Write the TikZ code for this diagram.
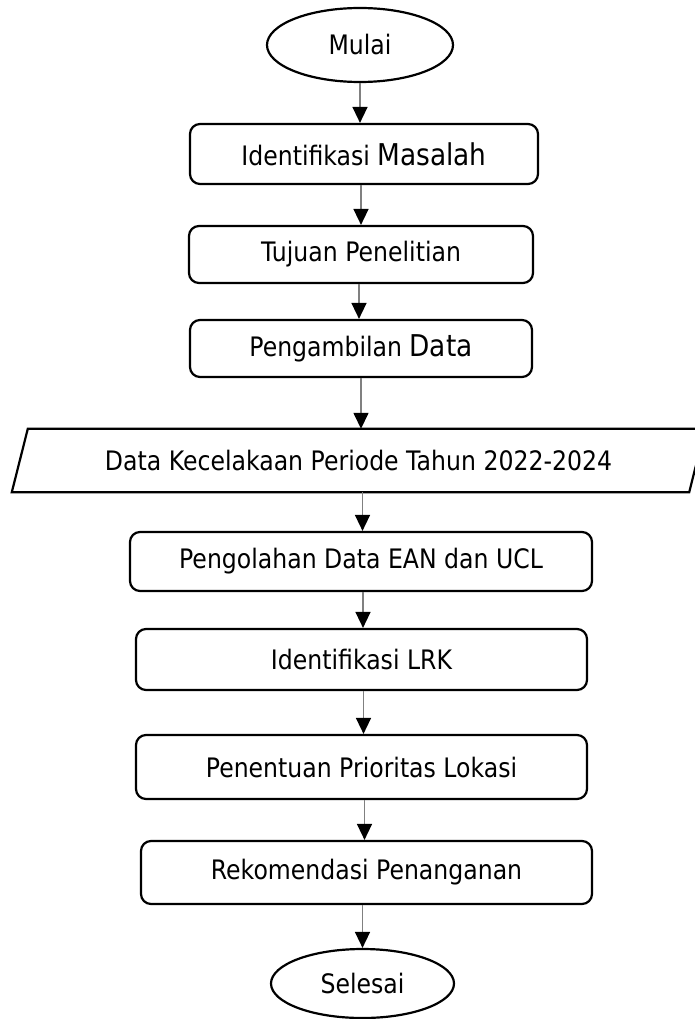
\documentclass[tikz,border=0pt]{standalone}
\usepackage{fontspec}
\setmainfont{DejaVu Sans}[FakeStretch=0.88]
\usetikzlibrary{shapes.geometric,arrows.meta}
\begin{document}
\begin{tikzpicture}[x=1pt,y=-1pt,
  every node/.style={font=\fontsize{26.8}{30}\selectfont, inner sep=0pt},
  proc/.style={draw, line width=2.2pt, rounded corners=10pt},
  term/.style={draw, ellipse, line width=2.2pt},
  arr/.style={draw=gray, line width=1.5pt, -{Triangle[length=16pt,width=15pt,color=black]}}
]
\useasboundingbox (0,0) rectangle (694,1019);
\node[term, minimum width=186pt, minimum height=74pt] (mulai) at (360,45) {Mulai};
\node[proc, minimum width=348pt, minimum height=60pt] (b1) at (364,154) {Identifikasi {\fontsize{30}{32}\selectfont Masalah}};
\node[proc, minimum width=344pt, minimum height=57pt] (b2) at (361,254.5) {Tujuan Penelitian};
\node[proc, minimum width=342pt, minimum height=57pt] (b3) at (361,348.5) {Pengambilan {\fontsize{30}{32}\selectfont Data}};
\node[minimum width=677pt, minimum height=63pt] (p) at (358.5,460.5) {Data Kecelakaan Periode Tahun 2022-2024};
\draw[line width=2.2pt, line join=miter] ([xshift=8pt]p.north west) -- ([xshift=8pt]p.north east) -- ([xshift=-8pt]p.south east) -- ([xshift=-8pt]p.south west) -- cycle;
\node[proc, minimum width=462pt, minimum height=59pt] (b4) at (361,561.5) {Pengolahan Data EAN dan UCL};
\node[proc, minimum width=451pt, minimum height=61pt] (b5) at (361.5,659.5) {Identifikasi LRK};
\node[proc, minimum width=451pt, minimum height=64pt] (b6) at (361.5,767) {Penentuan Prioritas Lokasi};
\node[proc, minimum width=451pt, minimum height=63pt] (b7) at (366.5,872.5) {Rekomendasi Penanganan};
\node[term, minimum width=183pt, minimum height=69pt] (sel) at (362.5,983.5) {Selesai};
\draw[arr] (mulai.south) -- (mulai.south |- b1.north);
\draw[arr] ([xshift=-3pt]b1.south) -- ([xshift=-3pt]b1.south |- b2.north);
\draw[arr] ([xshift=-2pt]b2.south) -- ([xshift=-2pt]b2.south |- b3.north);
\draw[arr] (b3.south) -- (b3.south |- p.north);
\draw[arr] ([xshift=4pt]p.south) -- ([xshift=4pt]p.south |- b4.north);
\draw[arr] ([xshift=2pt]b4.south) -- ([xshift=2pt]b4.south |- b5.north);
\draw[arr] ([xshift=2pt]b5.south) -- ([xshift=2pt]b5.south |- b6.north);
\draw[arr] ([xshift=3pt]b6.south) -- ([xshift=3pt]b6.south |- b7.north);
\draw[arr] ([xshift=-4pt]b7.south) -- ([xshift=-4pt]b7.south |- sel.north);
\end{tikzpicture}
\end{document}
